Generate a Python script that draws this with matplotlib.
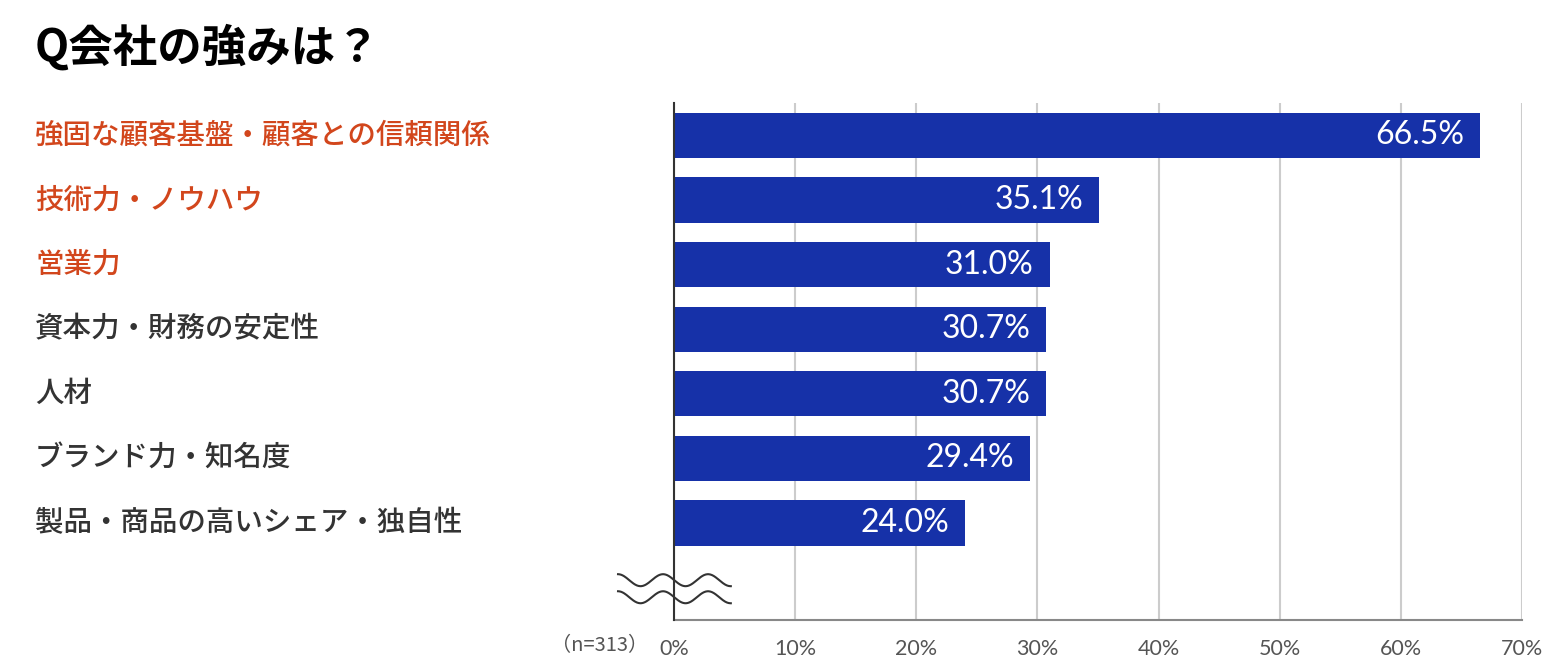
import numpy as np
import matplotlib
matplotlib.use("Agg")
import matplotlib.pyplot as plt
import matplotlib.transforms as mtransforms

plt.rcParams['font.family'] = ['Noto Sans CJK JP', 'DejaVu Sans']

categories = ["強固な顧客基盤・顧客との信頼関係", "技術力・ノウハウ", "営業力",
              "資本力・財務の安定性", "人材", "ブランド力・知名度",
              "製品・商品の高いシェア・独自性"]
values = [66.5, 35.1, 31.0, 30.7, 30.7, 29.4, 24.0]
highlight = [True, True, True, False, False, False, False]
xticks = [0, 10, 20, 30, 40, 50, 60, 70]

bar_color = "#1631a8"
orange = "#d2461c"
dark = "#333333"

fig = plt.figure(figsize=(15.52, 6.65), dpi=100)
ax = fig.add_axes([674 / 1552, 1 - 620 / 665, 848 / 1552, 517 / 665])

y = np.arange(len(categories))
ax.barh(y, values, height=0.7, color=bar_color, zorder=3)
ax.set_xlim(0, 70)
ax.set_ylim(len(categories) - 0.5 + 1.0, -0.5)

ax.set_xticks(xticks)
ax.set_xticklabels([f"{t}%" for t in xticks], fontsize=15.5, color="#555555",
                   family=['Lato', 'DejaVu Sans'])
ax.tick_params(axis='x', length=0, pad=14)
ax.set_yticks([])
ax.grid(axis='x', color="#cccccc", linewidth=1.5, zorder=0)

for s in ['top', 'right']:
    ax.spines[s].set_visible(False)
ax.spines['left'].set_color(dark)
ax.spines['left'].set_linewidth(1.5)
ax.spines['left'].set_zorder(4)
ax.spines['bottom'].set_color("#888888")
ax.spines['bottom'].set_linewidth(1.5)

# value labels inside bars
for yi, v in zip(y, values):
    ax.text(v - 1.3, yi, f"{v:.1f}%", ha='right', va='center', color='white',
            fontsize=23, family=['Lato', 'DejaVu Sans'], zorder=5)

# category labels, left aligned
lab_tr = mtransforms.blended_transform_factory(fig.transFigure, ax.transData)
for yi, c, h in zip(y, categories, highlight):
    ax.text(35 / 1552, yi, c, transform=lab_tr, ha='left', va='center',
            fontsize=20.5, color=orange if h else dark, weight='medium')

# title and sample size
fig.text(35 / 1552, 1 - 48 / 665, "Q会社の強みは？", fontsize=32, color='black',
         ha='left', va='center', weight='bold')
fig.text(648 / 1552, 1 - 646 / 665, "（n=313）", fontsize=14.5, color="#555555",
         ha='right', va='center')

# axis break wave
xs = np.linspace(-0.066, 0.067, 200)
amp = 6 / 517
per = 45 / 848
for y0 in [0.077, 0.044]:
    ys = y0 + amp * np.cos(2 * np.pi * (xs - xs[0]) / per)
    ax.plot(xs, ys, transform=ax.transAxes, color=dark, lw=1.5, clip_on=False, zorder=6)

fig.savefig("out.png", dpi=100, facecolor='white')
